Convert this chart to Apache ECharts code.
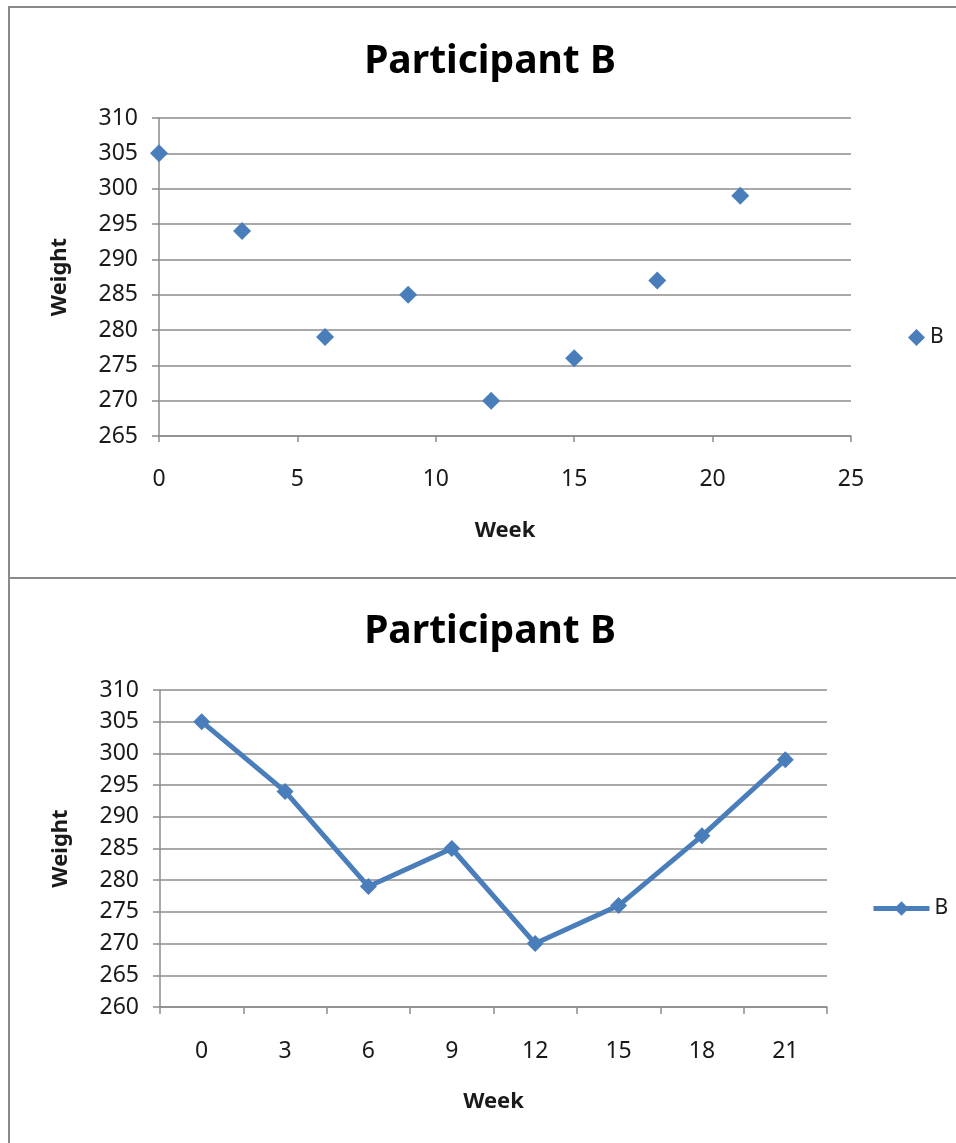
<!DOCTYPE html>
<html>
<head>
<meta charset="utf-8">
<script src="https://cdn.jsdelivr.net/npm/echarts@6/dist/echarts.min.js"></script>
<style>
  html, body { margin: 0; padding: 0; background: #fff; }
  #wrap { position: relative; width: 956px; height: 1143px; overflow: hidden; }
  .frame { position: absolute; left: 8px; width: 960px; border-top: 2px solid #8a8a8a; border-left: 2px solid #8a8a8a; }
  #f1 { top: 6px; height: 570px; }
  #f2 { top: 577px; height: 580px; }
  #chart { position: absolute; left: 0; top: 0; width: 956px; height: 1143px; }
</style>
</head>
<body>
<div id="wrap">
  <div class="frame" id="f1"></div>
  <div class="frame" id="f2"></div>
  <div id="chart"></div>
</div>
<script>
// Weekly weigh-ins for participant B
const weeks = [0, 3, 6, 9, 12, 15, 18, 21];
const weights = [305, 294, 279, 285, 270, 276, 287, 299];
const weekLabels = weeks.map(String);
const seriesName = 'B';
const chartTitle = 'Participant B';

const BLUE = '#4A7EBB';
const GRID_GRAY = '#8c8c8c';
const FONT = 'Noto Sans';
const TXT = '#1a1a1a';

const tickLabel = { color: TXT, fontFamily: FONT, fontSize: 23 };
const nameStyle = { color: TXT, fontFamily: FONT, fontSize: 22, fontWeight: 'bold' };
const titleStyle = { fontFamily: FONT, fontSize: 39, fontWeight: 'bold', color: '#000' };

const chart = echarts.init(document.getElementById('chart'), null, { renderer: 'canvas' });

chart.setOption({
  animation: false,
  title: [
    { text: chartTitle, left: 485, top: 37, textAlign: 'center', textStyle: titleStyle },
    { text: chartTitle, left: 485, top: 607, textAlign: 'center', textStyle: titleStyle }
  ],
  legend: [
    { data: [{ name: seriesName + ' ', icon: 'diamond' }], left: 903, top: 322, itemWidth: 17, itemHeight: 17, itemGap: 6,
      textStyle: { color: TXT, fontFamily: FONT, fontSize: 21 } },
    { data: [seriesName], left: 866, top: 893, itemWidth: 56, itemHeight: 18, itemGap: 4,
      lineStyle: { color: BLUE, width: 5 },
      textStyle: { color: TXT, fontFamily: FONT, fontSize: 21 } }
  ],
  grid: [
    { left: 159, top: 118, width: 692, height: 318 },
    { left: 160, top: 690, width: 667, height: 317 }
  ],
  xAxis: [
    { gridIndex: 0, type: 'value', min: 0, max: 25, interval: 5,
      name: 'Week', nameLocation: 'middle', nameGap: 84, nameTextStyle: nameStyle,
      axisLine: { lineStyle: { color: GRID_GRAY, width: 1.5 } },
      axisTick: { show: true, length: 6, lineStyle: { color: GRID_GRAY, width: 1.5 } },
      axisLabel: Object.assign({ margin: 32 }, tickLabel),
      splitLine: { show: false } },
    { gridIndex: 1, type: 'category', data: weekLabels, boundaryGap: true,
      name: 'Week', nameLocation: 'middle', nameGap: 84, nameTextStyle: nameStyle,
      axisLine: { lineStyle: { color: GRID_GRAY, width: 1.5 } },
      axisTick: { show: true, length: 7, alignWithLabel: false, lineStyle: { color: GRID_GRAY, width: 1.5 } },
      axisLabel: Object.assign({ margin: 33 }, tickLabel),
      splitLine: { show: false } }
  ],
  yAxis: [
    { gridIndex: 0, type: 'value', min: 265, max: 310, interval: 5,
      name: 'Weight', nameLocation: 'middle', nameGap: 88, nameRotate: 90, nameTextStyle: nameStyle,
      axisLine: { show: true, lineStyle: { color: GRID_GRAY, width: 1.5 } },
      axisTick: { show: true, length: 7, lineStyle: { color: GRID_GRAY, width: 1.5 } },
      axisLabel: Object.assign({ margin: 21 }, tickLabel),
      splitLine: { show: true, lineStyle: { color: GRID_GRAY, width: 1.5 } } },
    { gridIndex: 1, type: 'value', min: 260, max: 310, interval: 5,
      name: 'Weight', nameLocation: 'middle', nameGap: 88, nameRotate: 90, nameTextStyle: nameStyle,
      axisLine: { show: true, lineStyle: { color: GRID_GRAY, width: 1.5 } },
      axisTick: { show: true, length: 7, lineStyle: { color: GRID_GRAY, width: 1.5 } },
      axisLabel: Object.assign({ margin: 21 }, tickLabel),
      splitLine: { show: true, lineStyle: { color: GRID_GRAY, width: 1.5 } } }
  ],
  series: [
    { name: seriesName + ' ', type: 'scatter', xAxisIndex: 0, yAxisIndex: 0,
      symbol: 'diamond', symbolSize: 18,
      itemStyle: { color: BLUE, opacity: 1 },
      data: weeks.map((w, i) => [w, weights[i]]) },
    { name: seriesName, type: 'line', xAxisIndex: 1, yAxisIndex: 1,
      symbol: 'diamond', symbolSize: 17, showAllSymbol: true,
      lineStyle: { color: BLUE, width: 5 },
      itemStyle: { color: BLUE },
      data: weights }
  ]
});
</script>
</body>
</html>
